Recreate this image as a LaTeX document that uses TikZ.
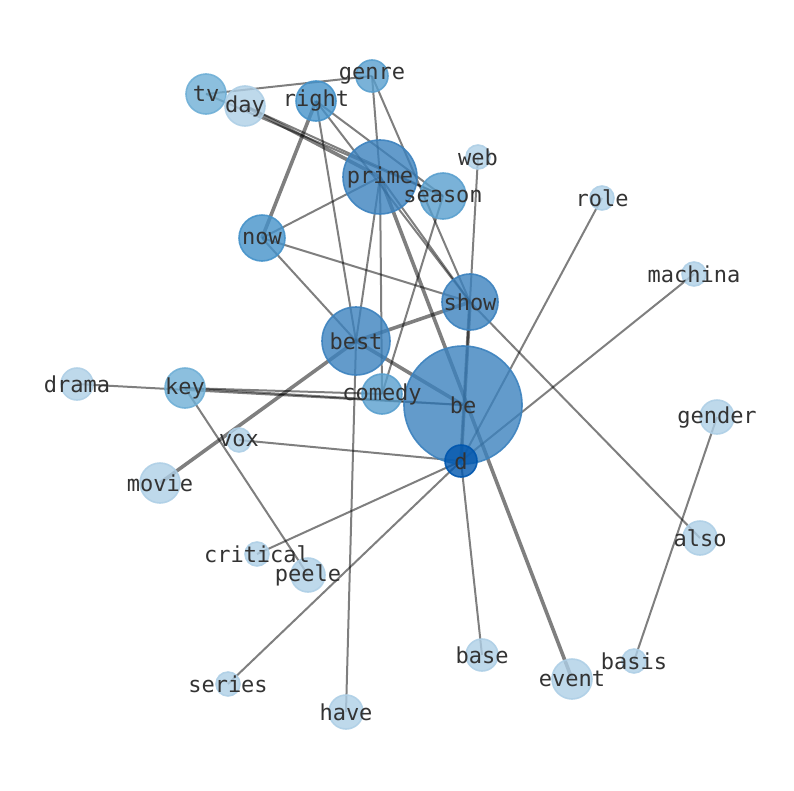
\documentclass[tikz,border=0pt]{standalone}
\usepackage{fontspec}
\setmonofont{DejaVu Sans Mono}
\usetikzlibrary{backgrounds}

% node colours, light to dark
\definecolor{cLight}{RGB}{174,207,230}
\definecolor{cPale}{RGB}{111,175,214}
\definecolor{cMid}{RGB}{89,159,206}
\definecolor{cDeep}{RGB}{69,146,201}
\definecolor{cHub}{RGB}{60,130,190}
\definecolor{cDark}{RGB}{0,86,174}

\begin{document}
\begin{tikzpicture}[x=1pt,y=-1pt,
    word/.style 2 args={circle, inner sep=0pt, minimum size={2*#1*1pt},
      fill=#2, fill opacity=0.8, draw=#2, draw opacity=0.9, line width=1.6pt},
    wtext/.style={font=\ttfamily\fontsize{22}{26}\selectfont, text=black!80, inner sep=0pt},
    link/.style={draw=black, draw opacity=0.5, line width=2pt},
    strong/.style={link, line width=3.6pt}]

  \useasboundingbox (0,0) rectangle (794,790);

  % Words: name / x / y / radius / colour (big ones first)
  \foreach \n/\x/\y/\r/\c in {
      be/463/405/59/cHub, prime/380/177/37/cHub, best/356/341/34/cHub,
      show/470/302/28/cHub, season/443/196/23/cMid, now/262/238/23/cDeep,
      tv/206/94/20/cPale, day/245/106/20/cLight, right/316/101/20/cDeep,
      key/185/388/20/cPale, comedy/382/394/20/cMid, movie/160/483/20/cLight,
      event/572/679/20/cLight, genre/372/76/16/cMid, d/461/461/16/cDark,
      drama/77/384/16/cLight, gender/717/417/17/cLight, also/700/538/17/cLight,
      peele/308/575/17/cLight, base/482/655/16/cLight, have/346/712/17/cLight,
      web/478/157/12/cLight, role/602/198/12/cLight, machina/694/274/12/cLight,
      vox/239/440/12/cLight, critical/257/554/12/cLight, basis/634/661/12/cLight,
      series/228/684/12/cLight} {
    \node[word={\r}{\c}] (\n) at (\x,\y) {};
  }

  % Labels on top of every circle
  \foreach \n in {be,prime,best,show,season,now,tv,day,right,key,comedy,movie,
      event,genre,d,drama,gender,also,peele,base,have,web,role,machina,vox,
      critical,basis,series} {
    \node[wtext] (\n-t) at (\n) {\n};
  }

  % Links behind the words
  \begin{scope}[on background layer]
    \foreach \a/\b in {tv/genre, tv/season, day/season, right/best, right/show,
        right/season, genre/prime, genre/show, now/prime, now/show, now/best,
        prime/best, prime/comedy, prime/show, show/also, season/comedy, web/d,
        role/d, machina/d, drama/be, key/comedy, key/be, key/peele, vox/d,
        critical/d, series/d, base/d, best/have, gender/basis} {
      \draw[link] (\a.center) -- (\b.center);
    }
    % heavier links
    \foreach \a/\b in {day/prime, right/now, best/show, best/be, best/movie,
        show/d, prime/event} {
      \draw[strong] (\a.center) -- (\b.center);
    }
  \end{scope}
\end{tikzpicture}
\end{document}
